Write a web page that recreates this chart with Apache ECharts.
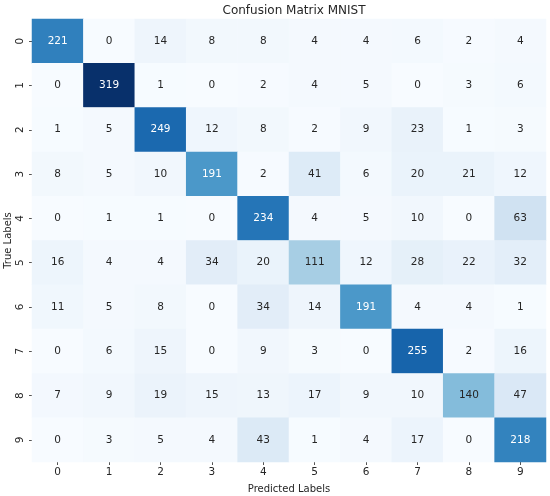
<!DOCTYPE html>
<html>
<head>
<meta charset="utf-8">
<script src="https://cdn.jsdelivr.net/npm/echarts@6/dist/echarts.min.js"></script>
<style>
  html, body { margin: 0; padding: 0; background: #fff; }
  #chart { width: 550px; height: 496px; }
</style>
</head>
<body>
<div id="chart"></div>
<script>
// class labels (predicted on x, true on y)
const predictedLabels = ["0", "1", "2", "3", "4", "5", "6", "7", "8", "9"];
const trueLabels = ["0", "1", "2", "3", "4", "5", "6", "7", "8", "9"];

// confusion matrix rows (true label) x columns (predicted label)
const row0 = [221, 0, 14, 8, 8, 4, 4, 6, 2, 4];
const row1 = [0, 319, 1, 0, 2, 4, 5, 0, 3, 6];
const row2 = [1, 5, 249, 12, 8, 2, 9, 23, 1, 3];
const row3 = [8, 5, 10, 191, 2, 41, 6, 20, 21, 12];
const row4 = [0, 1, 1, 0, 234, 4, 5, 10, 0, 63];
const row5 = [16, 4, 4, 34, 20, 111, 12, 28, 22, 32];
const row6 = [11, 5, 8, 0, 34, 14, 191, 4, 4, 1];
const row7 = [0, 6, 15, 0, 9, 3, 0, 255, 2, 16];
const row8 = [7, 9, 19, 15, 13, 17, 9, 10, 140, 47];
const row9 = [0, 3, 5, 4, 43, 1, 4, 17, 0, 218];
const matrix = [row0, row1, row2, row3, row4, row5, row6, row7, row8, row9];

// matplotlib "Blues"
const blues = ["#f7fbff", "#deebf7", "#c6dbef", "#9ecae1", "#6baed6",
  "#4292c6", "#2171b5", "#08519c", "#08306b"];

const vMin = 0;
const vMax = Math.max(...matrix.map((r) => Math.max(...r)));

const cells = [];
matrix.forEach((row, yi) => {
  row.forEach((v, xi) => {
    // seaborn flips annotation colour on dark cells
    const dark = (v - vMin) / (vMax - vMin) > 0.5;
    cells.push({
      value: [xi, yi, v],
      label: { color: dark ? "#ffffff" : "#262626" },
    });
  });
});

const chart = echarts.init(document.getElementById("chart"));

const font = "DejaVu Sans";

chart.setOption({
  animation: false,
  textStyle: { fontFamily: font },
  title: {
    text: "Confusion Matrix MNIST",
    left: 289,
    top: 0,
    textAlign: "center",
    textStyle: { fontFamily: font, fontSize: 12, fontWeight: "normal", color: "#262626" },
  },
  grid: { left: 32, right: 4, top: 19, bottom: 34, outerBoundsMode: "none", containLabel: false },
  xAxis: {
    type: "category",
    data: predictedLabels,
    name: "Predicted Labels",
    nameLocation: "middle",
    nameGap: 22,
    nameMoveOverlap: false,
    nameTextStyle: { fontFamily: font, fontSize: 10, color: "#262626" },
    axisLine: { show: false },
    axisTick: { show: true, alignWithLabel: true, length: 3, lineStyle: { color: "#555" } },
    axisLabel: { fontFamily: font, fontSize: 10.5, color: "#262626", margin: 5 },
    splitLine: { show: false },
  },
  yAxis: {
    type: "category",
    data: trueLabels,
    inverse: true,
    name: "True Labels",
    nameLocation: "middle",
    nameGap: 19,
    nameMoveOverlap: false,
    nameTextStyle: { fontFamily: font, fontSize: 10, color: "#262626" },
    axisLine: { show: false },
    axisTick: { show: true, alignWithLabel: true, length: 3, lineStyle: { color: "#555" } },
    axisLabel: { fontFamily: font, fontSize: 10.5, color: "#262626", rotate: 90, margin: 6 },
    splitLine: { show: false },
  },
  visualMap: {
    show: false,
    min: vMin,
    max: vMax,
    dimension: 2,
    inRange: { color: blues },
  },
  series: [
    {
      type: "heatmap",
      data: cells,
      label: { show: true, fontFamily: font, fontSize: 10.5 },
      itemStyle: { borderWidth: 0 },
      emphasis: { disabled: true },
    },
  ],
});
</script>
</body>
</html>
